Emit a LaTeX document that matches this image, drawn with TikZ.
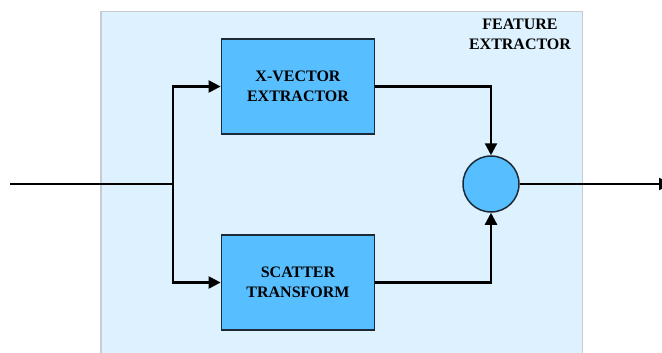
\documentclass[tikz,border=0pt]{standalone}
\usepackage{fontspec}
\setmainfont{Liberation Serif}
\usetikzlibrary{arrows.meta}
\definecolor{bgblue}{HTML}{DDF1FE}
\definecolor{boxblue}{HTML}{57BFFF}
\definecolor{boxedge}{HTML}{1C2A36}
\definecolor{frameedge}{HTML}{C8CCD0}
\tikzset{
  blockbox/.style={draw=boxedge, line width=1.8pt, fill=boxblue, minimum width=153pt, minimum height=95pt, inner sep=0pt, align=center, font=\bfseries\fontsize{16}{20}\selectfont},
  sumnode/.style={circle, draw=boxedge, line width=1.5pt, fill=boxblue, minimum size=56pt, inner sep=0pt},
  conn/.style={line width=2.3pt, -{Triangle[length=12pt,width=12pt]}},
  plain/.style={line width=2.3pt},
  titletext/.style={align=center, font=\bfseries\fontsize{16}{20}\selectfont}
}
\begin{document}
\begin{tikzpicture}[x=1pt,y=-1pt]
\useasboundingbox (0,0) rectangle (662,353);
\fill[bgblue, draw=frameedge, line width=1.2pt] (101,11.5) rectangle (582.5,370);
\node[titletext] (title) at (520,34) {FEATURE\\EXTRACTOR};
\node[blockbox] (xv) at (298,86.5) {X-VECTOR\\EXTRACTOR};
\node[blockbox] (sc) at (298,282.5) {SCATTER\\TRANSFORM};
\node[sumnode] (sum) at (491,184) {};
\coordinate (in) at (10,184);
\coordinate (split) at (173,184);
\coordinate (out) at (671,184);
\draw[plain] (in) -- (split);
\draw[conn] (split) |- (xv.west);
\draw[conn] (split) |- (sc.west);
\draw[conn] (xv.east) -| (sum.north);
\draw[conn] (sc.east) -| (sum.south);
\draw[conn] (sum.east) -- (out);
\end{tikzpicture}
\end{document}
